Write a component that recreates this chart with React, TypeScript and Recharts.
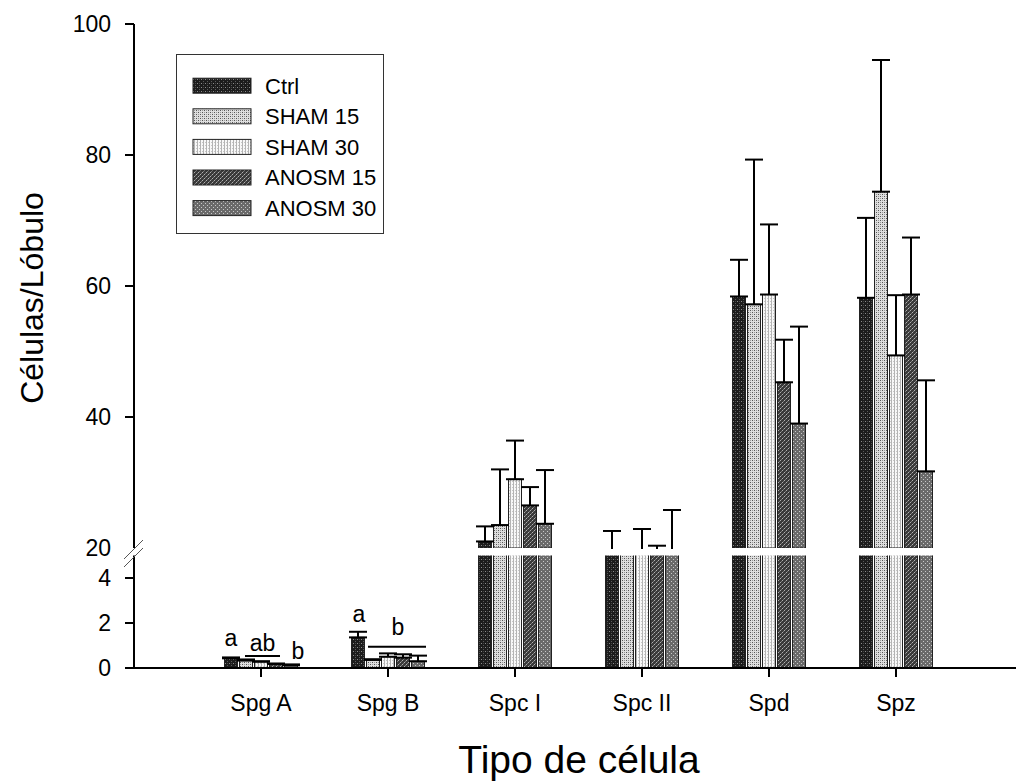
import React from 'react';
import { BarChart, Bar, XAxis, YAxis, ErrorBar, Legend, LabelList, Rectangle } from 'recharts';

const FONT = '"Liberation Sans", Arial, Helvetica, sans-serif';

const categories = ['Spg A', 'Spg B', 'Spc I', 'Spc II', 'Spd', 'Spz'];
const seriesNames = ['Ctrl', 'SHAM 15', 'SHAM 30', 'ANOSM 15', 'ANOSM 30'];

const ctrlMean = [0.43, 1.36, 21.0, 16.0, 58.4, 58.2];
const ctrlSD = [0.04, 0.25, 2.3, 6.6, 5.6, 12.2];
const sham15Mean = [0.33, 0.36, 23.5, 17.0, 57.2, 74.4];
const sham15SD = [0.05, 0.03, 8.5, 2.0, 22.1, 20.1];
const sham30Mean = [0.28, 0.5, 30.5, 17.0, 58.7, 49.4];
const sham30SD = [0.02, 0.15, 5.9, 5.9, 10.7, 9.2];
const anosm15Mean = [0.18, 0.46, 26.5, 17.0, 45.3, 58.7];
const anosm15SD = [0.02, 0.15, 2.8, 3.35, 6.5, 8.7];
const anosm30Mean = [0.12, 0.3, 23.7, 17.0, 39.0, 31.7];
const anosm30SD = [0.04, 0.25, 8.2, 8.8, 14.8, 13.9];

const upperDomain = [20, 100];
const upperTicks = [20, 40, 60, 80, 100];
const lowerDomain = [0, 5];
const lowerTicks = [0, 2, 4];

// significance letters (y in data units of the lower segment)
const sigNotes = [
  { cat: 'Spg A', s: 0, text: 'a', y: 0.98, dx: 0 },
  { cat: 'Spg A', s: 2, text: 'ab', y: 0.75, dx: 1.5, line: [-16, 19], lineY: 0.53 },
  { cat: 'Spg A', s: 4, text: 'b', y: 0.4, dx: 7 },
  { cat: 'Spg B', s: 0, text: 'a', y: 2.04, dx: 1 },
  { cat: 'Spg B', s: 2, text: 'b', y: 1.47, dx: 10, line: [-20, 38], lineY: 0.95 },
];

const means = [ctrlMean, sham15Mean, sham30Mean, anosm15Mean, anosm30Mean];
const sds = [ctrlSD, sham15SD, sham30SD, anosm15SD, anosm30SD];

const data = categories.map((cat, i) => {
  const row: any = { cat };
  means.forEach((m, s) => {
    row['s' + s] = m[i];
    row['e' + s] = [0, sds[s][i]];
  });
  return row;
});

const Patterns = ({ prefix }: { prefix: string }) => (
  <defs>
    <pattern id={prefix + '0'} width={4} height={4} patternUnits="userSpaceOnUse">
      <rect width={4} height={4} fill="#1c1c1c" />
      <rect x={1} y={1} width={1} height={1} fill="#8a8a8a" />
      <rect x={3} y={3} width={1} height={1} fill="#5a5a5a" />
      <rect x={3} y={1} width={1} height={1} fill="#444" />
    </pattern>
    <pattern id={prefix + '1'} width={4} height={4} patternUnits="userSpaceOnUse">
      <rect width={4} height={4} fill="#dedede" />
      <rect x={0} y={0} width={1} height={1} fill="#555" />
      <rect x={2} y={2} width={1} height={1} fill="#555" />
      <rect x={2} y={0} width={1} height={1} fill="#999" />
      <rect x={0} y={2} width={1} height={1} fill="#999" />
    </pattern>
    <pattern id={prefix + '2'} width={3} height={3} patternUnits="userSpaceOnUse">
      <rect width={3} height={3} fill="#f8f8f8" />
      <rect x={0} y={0} width={1} height={3} fill="#b4b4b4" />
      <rect x={2} y={1} width={1} height={1} fill="#c8c8c8" />
    </pattern>
    <pattern id={prefix + '3'} width={4} height={4} patternUnits="userSpaceOnUse">
      <rect width={4} height={4} fill="#3a3a3a" />
      <rect x={0} y={0} width={1} height={1} fill="#b0b0b0" />
      <rect x={2} y={2} width={1} height={1} fill="#b0b0b0" />
      <rect x={1} y={3} width={1} height={1} fill="#7a7a7a" />
      <rect x={3} y={1} width={1} height={1} fill="#7a7a7a" />
    </pattern>
    <pattern id={prefix + '4'} width={4} height={4} patternUnits="userSpaceOnUse">
      <rect width={4} height={4} fill="#6a6a6a" />
      <rect x={1} y={1} width={1} height={1} fill="#c8c8c8" />
      <rect x={3} y={3} width={1} height={1} fill="#c8c8c8" />
    </pattern>
  </defs>
);

const UpperTick = (props: any) => {
  const { x, y, payload } = props;
  const v = payload.value;
  return (
    <g>
      {v !== upperDomain[0] && (
        <line x1={x + 14} x2={x + 23} y1={y} y2={y} stroke="#000" strokeWidth={2} />
      )}
      <text x={x} y={y} dy="0.355em" textAnchor="end" fontSize={23} fontFamily={FONT} fill="#000">
        {v}
      </text>
    </g>
  );
};

const YTitle = () => (
  <text
    x={43}
    y={298}
    transform="rotate(-90, 43, 298)"
    textAnchor="middle"
    fontSize={32}
    fontFamily={FONT}
    fill="#000"
  >
    Células/Lóbulo
  </text>
);

const LOWER_TOP = 530;

const XTitle = () => (
  <text x={579} y={773 - LOWER_TOP} textAnchor="middle" fontSize={39} fontFamily={FONT} fill="#000">
    Tipo de célula
  </text>
);

const LegendBox = () => (
  <svg width={208} height={180} style={{ display: 'block' }}>
    <rect x={0.5} y={0.5} width={207} height={179} fill="#fff" stroke="#333" strokeWidth={1} />
    {seriesNames.map((name, i) => {
      const cy = 31.7 + i * 30.6;
      return (
        <g key={name}>
          <rect x={17} y={cy - 7.5} width={58} height={15} fill={`url(#up${i})`} stroke="#222" strokeWidth={1} />
          <text x={89} y={cy} dy="0.355em" fontSize={22} fontFamily={FONT} fill="#000">
            {name}
          </text>
        </g>
      );
    })}
  </svg>
);

const makeSig = (s: number) => (props: any) => {
  const { index, value } = props;
  const vb = props.viewBox || props;
  const note = sigNotes.find((n) => n.cat === categories[index] && n.s === s);
  if (!note || !value) return null;
  const bx = vb.x;
  const bw = vb.width;
  const base = vb.y + vb.height;
  const ppu = vb.height / value;
  const cx = bx + bw / 2;
  return (
    <g>
      <text
        x={cx + note.dx}
        y={base - note.y * ppu}
        textAnchor="middle"
        fontSize={23}
        fontFamily={FONT}
        fill="#000"
      >
        {note.text}
      </text>
      {note.line && (
        <line
          x1={cx + note.line[0]}
          x2={cx + note.line[1]}
          y1={base - note.lineY! * ppu}
          y2={base - note.lineY! * ppu}
          stroke="#000"
          strokeWidth={2}
        />
      )}
    </g>
  );
};

// in the upper segment, bars whose mean is below the break are hidden (only error bars show)
const makeUpperShape = (s: number) => (props: any) => {
  const v = props.payload ? props.payload['s' + s] : undefined;
  if (v === undefined || v < upperDomain[0]) return <g />;
  return <Rectangle {...props} />;
};

const xPadding = { left: 63.5, right: 56.5 };

// the upper segment is cut at its baseline (the axis break), except for the tick-label column
const upperClip = 'polygon(0px 0px, 1016px 0px, 1016px 549px, 130px 549px, 130px 574px, 0px 574px)';

export default function App() {
  return (
    <div style={{ position: 'absolute', left: 0, top: 0, width: 1016, height: 784, background: '#fff', fontFamily: FONT }}>
      <div style={{ position: 'absolute', left: 0, top: 0, clipPath: upperClip }}>
        <BarChart
          width={1016}
          height={574}
          data={data}
          margin={{ top: 24, right: 0, left: 0, bottom: 26 }}
          barGap={2}
          barSize={13}
        >
          <Patterns prefix="up" />
          <XAxis dataKey="cat" hide padding={xPadding} />
          <YAxis
            type="number"
            width={134}
            domain={upperDomain}
            ticks={upperTicks}
            allowDataOverflow
            interval={0}
            tickLine={false}
            tickSize={9}
            tickMargin={14}
            tick={UpperTick}
            axisLine={{ stroke: '#000', strokeWidth: 2 }}
            label={YTitle}
          />
          {seriesNames.map((name, s) => (
            <Bar
              key={name}
              name={name}
              dataKey={'s' + s}
              fill={`url(#up${s})`}
              stroke="#222"
              strokeWidth={1}
              shape={makeUpperShape(s)}
              isAnimationActive={false}
            >
              <ErrorBar dataKey={'e' + s} width={9} stroke="#000" strokeWidth={2} direction="y" />
            </Bar>
          ))}
          <Legend
            layout="horizontal"
            verticalAlign="middle"
            align="center"
            content={LegendBox}
            wrapperStyle={{ left: 176, top: 54, width: 208, height: 180 }}
          />
        </BarChart>
      </div>
      <div style={{ position: 'absolute', left: 0, top: LOWER_TOP }}>
        <BarChart
          width={1016}
          height={784 - LOWER_TOP}
          data={data}
          margin={{ top: 555.5 - LOWER_TOP, right: 0, left: 0, bottom: 0 }}
          barGap={2}
          barSize={13}
        >
          <Patterns prefix="lo" />
          <XAxis
            dataKey="cat"
            height={784 - 668}
            padding={xPadding}
            interval={0}
            tickSize={9}
            tickMargin={18}
            tick={{ fill: '#000', fontSize: 23, fontFamily: FONT }}
            axisLine={{ stroke: '#000', strokeWidth: 2 }}
            tickLine={{ stroke: '#000', strokeWidth: 2 }}
            label={XTitle}
          />
          <YAxis
            type="number"
            width={134}
            domain={lowerDomain}
            ticks={lowerTicks}
            allowDataOverflow
            interval={0}
            tickSize={9}
            tickMargin={14}
            tick={{ fill: '#000', fontSize: 23, fontFamily: FONT }}
            axisLine={{ stroke: '#000', strokeWidth: 2 }}
            tickLine={{ stroke: '#000', strokeWidth: 2 }}
          />
          {seriesNames.map((name, s) => (
            <Bar
              key={name}
              name={name}
              dataKey={'s' + s}
              fill={`url(#lo${s})`}
              stroke="#222"
              strokeWidth={1}
              isAnimationActive={false}
            >
              <ErrorBar dataKey={'e' + s} width={9} stroke="#000" strokeWidth={2} direction="y" />
              <LabelList dataKey={'s' + s} content={makeSig(s)} />
            </Bar>
          ))}
        </BarChart>
      </div>
      <svg
        width={30}
        height={40}
        style={{ position: 'absolute', left: 118, top: 534 }}
      >
        <line x1={6} y1={25} x2={25} y2={6} stroke="#555" strokeWidth={1} />
        <line x1={6} y1={33} x2={25} y2={14} stroke="#555" strokeWidth={1} />
      </svg>
    </div>
  );
}
